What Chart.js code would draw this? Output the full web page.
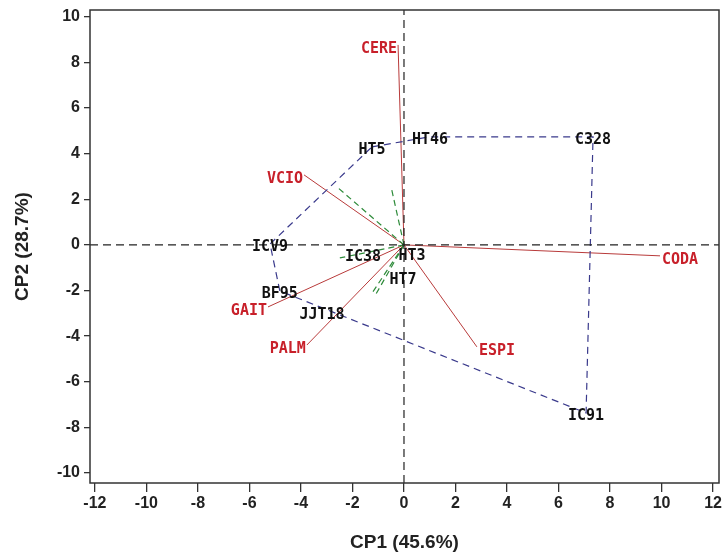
<!DOCTYPE html>
<html lang="pt-BR">
<head>
  <meta charset="UTF-8">
  <title>Biplot CP1 x CP2</title>
  <script src="https://cdn.jsdelivr.net/npm/chart.js"></script>
  <style>
    body { margin: 0; background: #fff; }
    canvas { display: block; }
  </style>
</head>
<body>
  <canvas id="biplot" width="723" height="559"></canvas>

  <script>
    // variáveis (vetores em vermelho)
    const variaveis = ['CERE', 'VCIO', 'GAIT', 'PALM', 'ESPI', 'CODA'];
    const varX = [-0.23, -3.88, -5.28, -3.77, 2.83, 9.94];
    const varY = [8.77, 3.07, -2.72, -4.39, -4.47, -0.48];

    // genótipos
    const genotipos = ['HT5', 'HT46', 'C328', 'IC91', 'JJT18', 'BF95', 'ICV9', 'IC38', 'HT3', 'HT7'];
    const genX = [-1.24, 1.01, 7.34, 7.07, -3.18, -4.82, -5.20, -1.59, 0.31, -0.04];
    const genY = [4.30, 4.74, 4.74, -7.37, -2.94, -2.02, 0.04, -0.39, -0.35, -1.40];

    // vértices do polígono (genótipos mais distantes)
    const poligono = ['HT5', 'HT46', 'C328', 'IC91', 'BF95', 'ICV9', 'HT5'];

    // retas perpendiculares aos lados do polígono (verde)
    const setorX = [-2.56, -0.50, -2.49, -1.13, -1.28];
    const setorY = [2.50, 2.54, -0.57, -2.24, -2.18];

    const xTicks = [-12, -10, -8, -6, -4, -2, 0, 2, 4, 6, 8, 10, 12];
    const yTicks = [-10, -8, -6, -4, -2, 0, 2, 4, 6, 8, 10];
    const xLim = [-12.19, 12.23];
    const yLim = [-10.44, 10.3];

    const VERMELHO = '#c8202a';
    const fonteEixo = { family: 'Liberation Sans, Arial', weight: 'bold', size: 16 };
    const fonteTitulo = { family: 'Liberation Sans, Arial', weight: 'bold', size: 19 };

    const datasets = [];

    // eixos tracejados em x = 0 e y = 0
    datasets.push({
      data: [{ x: xLim[0], y: 0 }, { x: xLim[1], y: 0 }],
      borderColor: '#222', borderWidth: 1.2, borderDash: [8, 5]
    });
    datasets.push({
      data: [{ x: 0, y: yLim[0] }, { x: 0, y: yLim[1] }],
      borderColor: '#222', borderWidth: 1.2, borderDash: [8, 5]
    });

    // polígono
    datasets.push({
      data: poligono.map(g => {
        const i = genotipos.indexOf(g);
        return { x: genX[i], y: genY[i] };
      }),
      borderColor: '#3a3a8c', borderWidth: 1.2, borderDash: [7, 5]
    });

    // setores
    setorX.forEach((sx, i) => {
      datasets.push({
        data: [{ x: 0, y: 0 }, { x: sx, y: setorY[i] }],
        borderColor: '#2e8b3a', borderWidth: 1.2, borderDash: [6, 4]
      });
    });

    // vetores das variáveis
    variaveis.forEach((v, i) => {
      datasets.push({
        data: [{ x: 0, y: 0 }, { x: varX[i], y: varY[i] }],
        borderColor: '#b83a3a', borderWidth: 1
      });
    });

    const rotulos = {
      id: 'rotulos',
      afterDatasetsDraw(chart) {
        const { ctx, scales: { x, y } } = chart;
        ctx.save();
        ctx.font = 'bold 15px "DejaVu Sans Mono"';
        ctx.textBaseline = 'middle';

        ctx.fillStyle = VERMELHO;
        variaveis.forEach((v, i) => {
          const px = x.getPixelForValue(varX[i]);
          const py = y.getPixelForValue(varY[i]);
          const esq = varX[i] < 0;
          ctx.textAlign = esq ? 'right' : 'left';
          ctx.fillText(v, px + (esq ? -1 : 2), py + 4);
        });

        ctx.fillStyle = '#111';
        ctx.textAlign = 'center';
        genotipos.forEach((g, i) => {
          ctx.fillText(g, x.getPixelForValue(genX[i]), y.getPixelForValue(genY[i]) + 3);
        });

        // moldura
        const a = chart.chartArea;
        ctx.strokeStyle = '#333';
        ctx.lineWidth = 1.5;
        ctx.strokeRect(a.left, a.top, a.right - a.left, a.bottom - a.top);
        ctx.restore();
      }
    };

    new Chart(document.getElementById('biplot'), {
      type: 'scatter',
      data: { datasets: datasets.map(d => Object.assign({ showLine: true, pointRadius: 0, fill: false }, d)) },
      options: {
        responsive: false,
        animation: false,
        layout: { padding: { top: 10, right: 4, left: 0, bottom: 0 } },
        plugins: { legend: { display: false }, tooltip: { enabled: false } },
        scales: {
          x: {
            type: 'linear',
            min: xLim[0], max: xLim[1],
            afterBuildTicks: s => { s.ticks = xTicks.map(v => ({ value: v })); },
            afterFit: s => { s.height = 76; s.paddingLeft = 0; s.paddingRight = 0; },
            grid: { drawOnChartArea: false, drawTicks: true, tickLength: 9, color: '#333', lineWidth: 1.3 },
            border: { display: false },
            ticks: { font: fonteEixo, color: '#222', padding: 2, maxRotation: 0, autoSkip: false, callback: v => String(v) },
            title: { display: true, text: 'CP1 (45.6%)', font: fonteTitulo, color: '#222', padding: { top: 0, bottom: 5 } }
          },
          y: {
            type: 'linear',
            min: yLim[0], max: yLim[1],
            afterBuildTicks: s => { s.ticks = yTicks.map(v => ({ value: v })); },
            afterFit: s => { s.width = 90; s.paddingTop = 0; s.paddingBottom = 0; },
            grid: { drawOnChartArea: false, drawTicks: true, tickLength: 6, color: '#333', lineWidth: 1.3 },
            border: { display: false },
            ticks: { font: fonteEixo, color: '#222', padding: 4, autoSkip: false, callback: v => String(v) },
            title: { display: true, text: 'CP2 (28.7%)', font: fonteTitulo, color: '#222', padding: { top: 11, bottom: 0 } }
          }
        }
      },
      plugins: [rotulos]
    });
  </script>
</body>
</html>
